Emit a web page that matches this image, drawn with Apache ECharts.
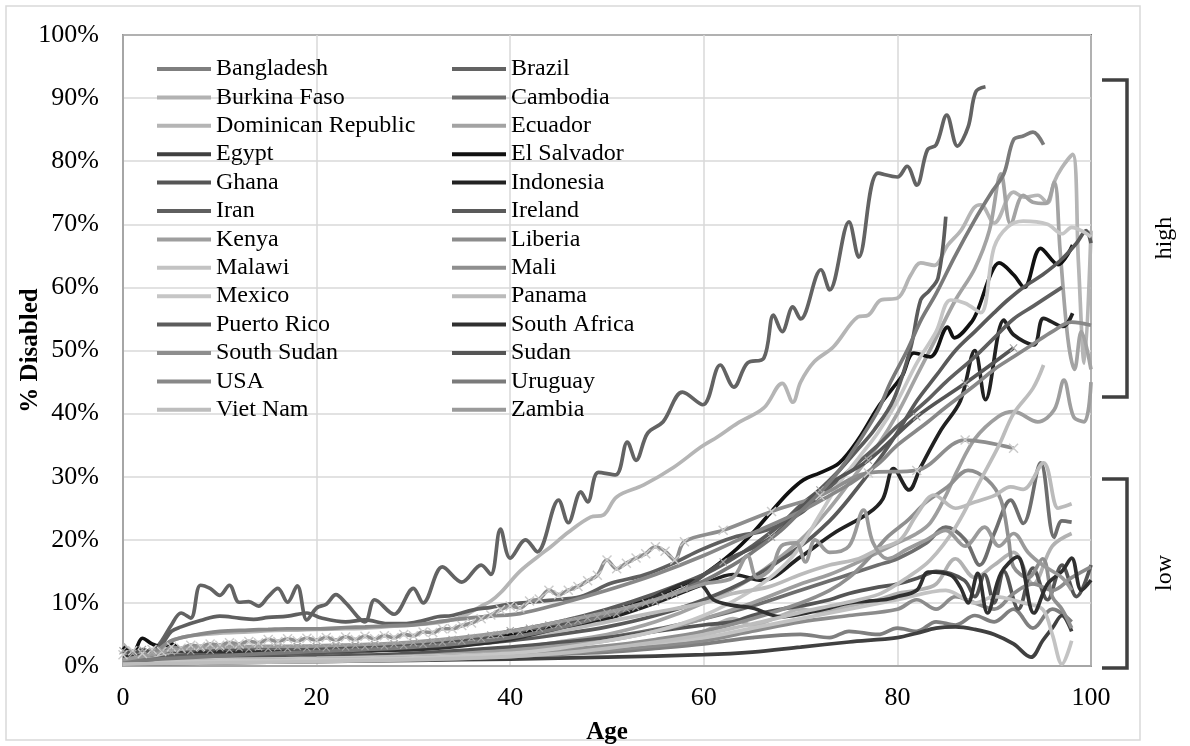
<!DOCTYPE html>
<html>
<head>
<meta charset="utf-8">
<script src="https://cdn.jsdelivr.net/npm/echarts@6/dist/echarts.min.js"></script>
<style>html,body{margin:0;padding:0;background:#fff}#c{width:1190px;height:746px}</style>
</head>
<body>
<div id="c"></div>
<script>
// ---- Data: [age, % disabled] ----
const xTicks = [0, 20, 40, 60, 80, 100];
const yTicks = [0, 10, 20, 30, 40, 50, 60, 70, 80, 90, 100];
const leftColumn = ['Bangladesh','Burkina Faso','Dominican Republic','Egypt','Ghana','Iran','Kenya','Malawi','Mexico','Puerto Rico','South Sudan','USA','Viet Nam'];
const rightColumn = ['Brazil','Cambodia','Ecuador','El Salvador','Indonesia','Ireland','Liberia','Mali','Panama','South Africa','Sudan','Uruguay','Zambia'];

const bangladesh = [[0,0.5],[5,0.7],[10,0.8],[20,1],[30,1.2],[40,1.6],[50,2.2],[55,2.8],[60,3.5],[65,4.5],[70,5],[73,4.5],[75,5.5],[78,5],[80,6],[82,5.5],[84,7],[86,6.5],[88,8],[90,7],[92,9],[94,6],[96,9],[98,7]];
const brazil = [[0,2.2],[2,1.8],[3,2.2],[4,4],[5,6.5],[6,8.4],[7,7.6],[8,12.8],[9,12.3],[10,11.2],[11,12.8],[12,10.1],[13,10.2],[14,9.5],[15,11],[16,12.3],[17,10.1],[18,12.7],[19,7.3],[20,9.2],[21,9.8],[22,11.3],[23,10],[25,7],[26,10.5],[28,8.2],[30,12.3],[31,10],[33,15.7],[35,13.3],[37,16],[38,14.5],[39,21.7],[40,17.1],[41.6,20],[42.8,18.1],[45,26.3],[46,22.7],[47.3,27.6],[48,26],[49.1,30.7],[50.9,30.3],[52.1,35.5],[53,32.6],[54.2,36.9],[55.8,38.7],[57.8,43.4],[59.9,41.4],[61.7,47.7],[63.1,44.2],[64.5,48],[66.2,48.8],[67.2,55.6],[68.1,53],[69.2,56.9],[70,55],[72.1,62.8],[73,59.6],[75,70.4],[76,64.8],[78,78.1],[80,77.5],[81,79.2],[82,76.2],[83.1,81.8],[84,82.6],[85.1,87.3],[86.2,82.4],[87.3,85.4],[88.1,91],[89.1,91.8]];
const burkinaFaso = [[0,3.5],[1,2],[2,1.5],[5,1.2],[10,1.1],[20,1.3],[30,1.6],[40,2.1],[50,3],[55,4],[60,5.5],[63,7.5],[65,6.5],[68,8],[70,9],[72,8.5],[75,9.5],[78,10.5],[80,11.5],[82,12],[84,13],[86,17],[88,14],[90,16],[92,18],[94,13],[96,19],[98,21]];
const cambodia = [[0,0.5],[5,0.8],[10,1],[20,1.3],[30,1.8],[40,2.8],[45,3.5],[50,4.5],[55,5.8],[60,7.5],[65,9.5],[70,12],[73,13.5],[75,14.5],[78,16],[80,17],[83,19.5],[85,22],[87,20],[88.5,16],[90,21],[91.7,26.3],[93,22.6],[94.8,32.2],[96.2,20.4],[97,23],[98,22.8]];
const dominicanRepublic = [[0,1.5],[2,2],[4,2.8],[5,4],[7,4.8],[10,5.2],[13,5.4],[15,5.6],[18,5.7],[20,5.8],[23,5.9],[25,6],[28,6.3],[30,6.5],[33,7],[35,7.8],[37,9.5],[38,10.3],[39,11.6],[41,15],[43,17.5],[44.2,18.9],[46,21.2],[48.3,23.6],[49.6,23.9],[51,26.8],[53.8,28.7],[56.9,31.5],[59.7,34.7],[61.4,36.3],[63.5,38.5],[66.2,40.9],[68.1,44.8],[69.2,41.8],[70,45],[71.4,48.2],[73.4,50.6],[75.9,55.3],[77,55.6],[78.3,58],[80,58.3],[81.4,62],[82.4,63.9],[83.8,63.5],[85.2,66.7],[86.6,69.1],[87.9,72.6],[88.6,73.1],[90,70.2],[92,75.1],[93.1,74.3],[94.5,74.6],[95.5,73.4],[96.2,76.7],[97,79],[98.1,81.1],[98.7,64],[99.3,48],[100,69]];
const ecuador = [[0,0.6],[5,0.8],[10,1],[20,1.3],[30,1.8],[40,2.8],[45,3.8],[50,5],[55,7],[60,10],[65,14],[70,20],[73,25],[76,31],[78,35],[80,40],[82,46],[84,52],[86,58],[88,63],[89.5,69],[90.7,78],[91.7,70],[93,74.6],[94,73.5],[95.3,73.3],[96.2,76.7],[96.8,66],[97.6,52],[98.3,47],[99,53],[100,47]];
const egypt = [[0,0.3],[10,0.5],[20,0.7],[30,0.9],[40,1.1],[50,1.4],[60,1.8],[65,2.2],[70,3],[75,3.8],[80,4.5],[82,5.2],[84,6],[86,6.2],[88,5.8],[90,5],[92,3.5],[93.8,1.4],[95,4],[96,6],[97,8],[98,5.5]];
const elSalvador = [[0,3],[1,2],[2,4.4],[3,3.5],[4,3],[5,3.5],[6,2.5],[8,2.2],[10,2],[15,2.1],[20,2.3],[25,2.6],[30,3.1],[35,3.8],[40,5],[45,6.5],[50,8.5],[55,11],[58,13],[60,14.5],[63,18],[65,21],[67,24.5],[68.7,27.4],[70.3,29.5],[72,30.6],[74,32.2],[76,36],[78,41],[79.5,44],[80.5,46],[81.7,49.6],[83.4,49],[85.2,53.7],[85.9,52],[87.6,54.4],[88.3,56.4],[89.7,62.3],[90.5,63.9],[92,62],[93.1,60],[94.8,66.2],[96.6,63.6],[98.1,66.7]];
const ghana = [[0,0.8],[5,1.1],[10,1.2],[20,1.5],[30,2],[40,3],[45,3.7],[50,4.5],[55,5.5],[60,6.5],[63,7],[65,8],[68,9],[70,9.5],[73,10.5],[75,11.5],[78,12.5],[80,13],[82.4,14.1],[84,15],[86.9,13.6],[88,11],[89,14.5],[90,10],[91,15],[92.5,9],[94,15.5],[95.5,10.5],[97,16],[98.5,11],[100,16]];
const indonesia = [[0,1.5],[5,2],[10,2.2],[20,2.5],[30,3],[35,3.5],[40,4.5],[45,5.8],[50,7.5],[55,10],[60,13],[63,14.5],[66,13.6],[70,17.3],[73.4,21],[77,24.2],[78.5,26.5],[79.6,31.3],[81.2,27.9],[82.4,31.5],[84.5,37.4],[86.5,42],[88,50],[89.1,42.2],[91,54.8],[92,52.5],[94.1,50.9],[95.1,55.1],[97.1,53.8],[98.1,55.9]];
const iran = [[0,1],[2,1.5],[4,3.5],[5,5.5],[6,6.2],[8,7.2],[10,7.9],[12,7.6],[13.5,7.4],[15,7.7],[17,7.9],[19,8.4],[20.5,7.6],[23,7],[25,7.3],[27.3,6.7],[29,6.7],[31,7.2],[32.5,7.8],[34,8],[36.2,8.9],[38,9.3],[40,9.8],[42,10.1],[44,10.4],[47.3,11],[50.4,13.1],[53.8,14.4],[56.9,16.3],[59.7,18.4],[63.1,20.4],[66.6,21.6],[70,24.2],[72,27],[75,31],[78,35],[80,38],[83,42],[85,45],[88,49],[90,52],[92,55],[94,57],[97,60]];
const ireland = [[0,0.5],[5,1],[10,1.5],[15,1.8],[20,2],[25,2.3],[30,2.8],[35,3.3],[40,4],[45,5],[50,6.2],[55,8],[60,10.5],[65,14],[70,19],[73,23],[75,26.5],[78,32.5],[80,37],[82,42],[84,46],[86,50],[88,53],[90,56],[91.4,58],[93,60],[95,62],[97,64.5],[98.5,67],[99.5,69],[100,67]];
const kenya = [[0,0.5],[5,0.9],[10,1],[20,1.2],[30,1.6],[40,2.5],[45,3.2],[50,4],[55,5.5],[60,7.5],[65,10],[70,13],[73,14.5],[76,16.5],[78,18],[80,19.5],[82,21],[83.4,22.7],[85,27],[86.2,31],[88,36],[90.4,39.5],[92,40.3],[94.5,38.7],[96.2,40.6],[97.2,45.3],[98.2,39.5],[99.3,38.7],[100,45]];
const liberia = [[0,0.4],[5,0.5],[10,0.6],[20,0.8],[30,1],[40,1.5],[50,2.5],[60,4],[65,5.5],[70,7],[75,8],[80,9],[82,10.5],[84,9],[86,11],[88,10],[90,9],[92,11.5],[94,13],[96,12],[98,14],[100,15.7]];
const malawi = [[0,0.5],[5,0.8],[10,1],[20,1.2],[30,1.5],[40,2],[50,3],[60,4.5],[65,6],[70,7.5],[75,9],[80,10.5],[85,12],[88,10],[90,11],[93,10],[95,9],[96,5],[97,0.3],[98,4]];
const mali = [[0,0.5],[5,0.7],[10,0.8],[20,1],[30,1.3],[40,2],[50,3.2],[55,4.2],[60,5.5],[65,7.5],[70,10],[73,12],[75,14],[77,17],[79,20.5],[81,23],[83,26],[85.2,28.4],[87.3,31],[89.3,29.5],[90.7,26.3],[91.5,20],[92,15.7],[93.5,14],[95,17],[96,11],[97,9],[98,6]];
const mexico = [[0,0.5],[5,0.7],[10,0.8],[20,1],[30,1.3],[40,2],[45,2.8],[50,4],[55,5.5],[60,8],[65,12],[68,15.5],[70,19],[72,24],[74,29],[76,33],[78,37],[80,42],[82,48],[84,53],[85.5,58],[87,57.5],[88.6,56],[90,66.4],[91.4,69.6],[93,70.5],[95.5,70],[97,68.5],[98,69.5],[99,69],[100,68]];
const panama = [[0,1],[3,1.5],[5,2],[10,2.5],[20,2.8],[30,3.2],[40,4.5],[45,5.5],[50,7],[55,8.5],[60,10],[63,11.5],[66.6,12.5],[70,14.5],[73,16],[76,17],[78,18.5],[80.3,20],[82,24],[83.8,27.1],[86,25],[88,26],[90,27],[91.7,28.4],[93,28],[95.1,32.2],[96.6,25],[97.3,25.3],[98,25.7]];
const puertoRico = [[0,0.8],[3,1],[5,1.6],[10,2],[15,2.3],[20,2.6],[25,3],[30,3.5],[35,4.2],[40,5.5],[45,7],[50,9],[55,11.5],[60,14.5],[63,17],[65,19],[68,22.5],[70,25.5],[72,28],[74,31],[76,34.5],[77.6,37.4],[79.6,42.2],[81.4,50.6],[82.4,58],[83.3,59.5],[84.2,61.5],[85,71.2]];
const southAfrica = [[0,1.5],[3,1.8],[5,2.4],[10,2.3],[15,2.2],[20,2.3],[25,2.5],[30,2.6],[35,3.2],[40,4.2],[45,6],[50,8],[53,9.5],[55,11],[57,12.5],[59,13.5],[60,12.5],[61,10.5],[63,9.6],[65,9.2],[68,7.8],[70,8.2],[73,9.2],[75,10],[78.6,10.5],[80,11],[82,12],[83.2,14.9],[85.5,14.4],[86.5,12.5],[87.3,10],[88.3,14.7],[89.3,8.4],[90.7,14.7],[92.4,17.3],[94.1,8.4],[95.5,13],[97,15],[98,17.1],[99,12],[100,13.6]];
const southSudan = [[0,1.8],[1,2.4],[2,2],[3,2.6],[4,2.3],[5,3],[6,2.8],[7,3.3],[8,3.1],[9,3.5],[10,3.3],[11,3.7],[12,3.5],[13,3.9],[14,3.7],[15,4.2],[16,3.9],[17,4.3],[18,4],[19,4.4],[20,4.1],[21,4.5],[22,4.1],[23,4.6],[24,4.2],[25,4.7],[26,4.3],[27,4.8],[28,4.5],[29,5],[30,4.8],[31,5.4],[32,5.3],[33,5.9],[34,5.9],[35,6.4],[36,6.8],[37,7.5],[38,8.1],[39,8.9],[40,9.5],[41,9.2],[42,10.3],[43,10.6],[44,12],[45,11.3],[46,12],[47,12.6],[48,13.5],[49,14.4],[50,16.8],[51,15.4],[52,16.3],[53,17.1],[54,17.8],[55,18.9],[56,18.2],[57,16.8],[58,19.7],[62,21.5],[67,24.5],[72,27],[77,30.6],[82,31],[87,35.8],[92,34.5]];
const sudan = [[0,2.4],[1,2],[2,2.6],[3,2.2],[4,2.5],[5,2.3],[6,2.7],[7,2.4],[8,2.8],[9,2.5],[10,2.9],[11,2.6],[12,2.9],[13,2.7],[14,3],[15,2.8],[16,3],[17,2.8],[18,3.1],[19,2.9],[20,3.1],[21,2.9],[22,3.2],[23,3],[24,3.3],[25,3.1],[26,3.4],[27,3.2],[28,3.5],[29,3.3],[30,3.7],[31,3.5],[32,3.9],[33,3.8],[34,4.2],[35,4],[36,4.5],[37,4.4],[38,4.9],[39,5],[40,5.6],[41,5.4],[42,6],[43,6],[44,6.5],[45,6.6],[46,7],[47,7.2],[48,7.6],[49,7.8],[50,8.4],[51,8.3],[52,9.1],[53,9.3],[54,10],[55,10.2],[56,11],[57,11.4],[58,12.2],[62,16.5],[67,20.4],[72,27.9],[77,32.6],[82,39.5],[87,44.8],[92,50.4]];
const uruguay = [[0,0.8],[5,1.2],[10,1.6],[15,2],[20,2.3],[25,2.6],[30,3],[35,3.6],[40,4.5],[45,6],[50,8],[55,10.5],[60,13.5],[63,16],[65,18],[68,21.5],[70,24.5],[72,27.5],[74,31],[76,35.5],[78,40.5],[79.3,45],[81,50],[82.5,55],[84,59],[85.9,64.8],[88,70.7],[89.7,75],[91,78],[92,83.4],[93,84],[94,84.6],[95.1,82.6]];
const usa = [[0,0.8],[3,2],[5,4],[7,4.8],[10,5.5],[13,5.7],[15,5.8],[17,5.9],[20,5.9],[23,6.1],[25,6.2],[28,6.4],[30,6.5],[34,7.3],[38,7.9],[41,8.3],[45,9.8],[50,12],[55,14.5],[60,17.5],[65,21],[70,24.5],[73,27],[75,28.8],[78,32],[80,35],[83,38.5],[85,41],[88,44.5],[90,47],[92,49],[94,51],[96,53],[98,54.5],[100,54]];
const vietNam = [[0,0.3],[5,0.4],[10,0.5],[20,0.7],[30,1],[40,1.5],[45,2],[50,2.8],[55,3.8],[60,5],[63,6],[66,7],[70,8.5],[73,9.5],[76,10.5],[78.3,11.5],[81,14],[83.4,16.8],[86,22],[88.6,29.5],[90.5,35],[92,40],[94,44],[95.1,47.7]];
const zambia = [[0,1],[3,1.8],[5,2.5],[10,3],[20,3.2],[30,3.8],[40,5.5],[45,7],[50,8.5],[55,10.5],[58,12],[60,13],[63,14],[64.5,17.5],[65.5,14],[67,15.5],[68,19],[69.5,19.5],[70.5,16.5],[71.5,20],[73,18],[75,19],[76.5,24.7],[77.5,19.5],[79,17],[81,18.5],[83,20],[85,21.5],[87,19],[89,22],[90.5,19],[92,21],[93.5,18],[95,16],[97,14],[98,12]];

// ---- Styling (separate from data) ----
const seriesData = {
  'Bangladesh': bangladesh, 'Brazil': brazil, 'Burkina Faso': burkinaFaso, 'Cambodia': cambodia,
  'Dominican Republic': dominicanRepublic, 'Ecuador': ecuador, 'Egypt': egypt, 'El Salvador': elSalvador,
  'Ghana': ghana, 'Indonesia': indonesia, 'Iran': iran, 'Ireland': ireland, 'Kenya': kenya,
  'Liberia': liberia, 'Malawi': malawi, 'Mali': mali, 'Mexico': mexico, 'Panama': panama,
  'Puerto Rico': puertoRico, 'South Africa': southAfrica, 'South Sudan': southSudan, 'Sudan': sudan,
  'USA': usa, 'Uruguay': uruguay, 'Viet Nam': vietNam, 'Zambia': zambia
};
const lineColors = {
  'Bangladesh':'#7f7f7f','Brazil':'#636363','Burkina Faso':'#b2b2b2','Cambodia':'#6e6e6e',
  'Dominican Republic':'#b5b5b5','Ecuador':'#a3a3a3','Egypt':'#404040','El Salvador':'#111111',
  'Ghana':'#555555','Indonesia':'#222222','Iran':'#5f5f5f','Ireland':'#5a5a5a','Kenya':'#9e9e9e',
  'Liberia':'#8c8c8c','Malawi':'#c3c3c3','Mali':'#8f8f8f','Mexico':'#c6c6c6','Panama':'#bbbbbb',
  'Puerto Rico':'#5c5c5c','South Africa':'#303030','South Sudan':'#8e8e8e','Sudan':'#555555',
  'USA':'#888888','Uruguay':'#7a7a7a','Viet Nam':'#bdbdbd','Zambia':'#9a9a9a'
};
const markerColors = {'South Sudan':'#cbcbcb','Sudan':'#a5a5a5'};
const xPath = 'path://M1,0L5,4L9,0L10,1L6,5L10,9L9,10L5,6L1,10L0,9L4,5L0,1Z';
const FONT = '"Liberation Serif","Times New Roman",serif';

const order = ['Bangladesh','Brazil','Burkina Faso','Cambodia','Dominican Republic','Ecuador','Egypt','El Salvador','Ghana','Indonesia','Iran','Ireland','Kenya','Liberia','Malawi','Mali','Mexico','Panama','Puerto Rico','South Africa','South Sudan','Sudan','USA','Uruguay','Viet Nam','Zambia'];

const series = order.map(name => {
  const hasMarker = markerColors[name] !== undefined;
  return {
    name: name,
    type: 'line',
    data: seriesData[name],
    smooth: 0.35,
    symbol: hasMarker ? xPath : 'none',
    symbolSize: hasMarker ? (name === 'Sudan' ? 8 : 10) : 0,
    showSymbol: hasMarker,
    lineStyle: { color: lineColors[name], width: 3.7 },
    itemStyle: { color: hasMarker ? markerColors[name] : lineColors[name] },
    emphasis: { disabled: true },
    animation: false
  };
});

function legendItems(names) {
  return names.map(n => ({ name: n, icon: 'rect', itemStyle: { color: lineColors[n], borderWidth: 0 } }));
}

const legendBase = {
  orient: 'vertical',
  top: 57,
  padding: 0,
  itemWidth: 54,
  itemHeight: 4,
  itemGap: 4.4,
  selectedMode: false,
  textStyle: { fontFamily: FONT, fontSize: 24, lineHeight: 24, color: '#000' }
};

const chart = echarts.init(document.getElementById('c'), null, { renderer: 'canvas' });
chart.setOption({
  backgroundColor: '#fff',
  animation: false,
  grid: { left: 123, right: 99, top: 35, bottom: 80, show: true, borderColor: '#000', borderWidth: 1.5,
          backgroundColor: 'transparent', containLabel: false, outerBoundsMode: 'none' },
  xAxis: {
    type: 'value', min: xTicks[0], max: xTicks[xTicks.length - 1], interval: 20,
    axisLine: { show: true, lineStyle: { color: '#a6a6a6', width: 2 } },
    axisTick: { show: false },
    splitLine: { show: true, lineStyle: { color: '#d9d9d9', width: 1.5 } },
    axisLabel: { fontFamily: FONT, fontSize: 26, color: '#000', margin: 19 },
    name: 'Age', nameLocation: 'middle', nameGap: 54, nameMoveOverlap: false,
    nameTextStyle: { fontFamily: FONT, fontSize: 25, fontWeight: 'bold', color: '#000' }
  },
  yAxis: {
    type: 'value', min: yTicks[0], max: yTicks[yTicks.length - 1], interval: 10,
    axisLine: { show: true, lineStyle: { color: '#a6a6a6', width: 2 } },
    axisTick: { show: false },
    splitLine: { show: true, lineStyle: { color: '#d9d9d9', width: 1.5 } },
    axisLabel: { fontFamily: FONT, fontSize: 26, color: '#000', margin: 24, formatter: '{value}%' },
    name: '% Disabled', nameLocation: 'middle', nameGap: 80, nameMoveOverlap: false,
    nameTextStyle: { fontFamily: FONT, fontSize: 25, fontWeight: 'bold', color: '#000' }
  },
  legend: [
    Object.assign({}, legendBase, { left: 157, data: legendItems(leftColumn) }),
    Object.assign({}, legendBase, { left: 452, data: legendItems(rightColumn) })
  ],
  graphic: [
    { type: 'rect', silent: true, z: -10, shape: { x: 6, y: 6, width: 1134, height: 734 },
      style: { fill: 'none', stroke: '#d9d9d9', lineWidth: 1.5 } },
    { type: 'polyline', silent: true, shape: { points: [[1102,80],[1127,80],[1127,397],[1102,397]] },
      style: { fill: null, stroke: '#404040', lineWidth: 3.5 } },
    { type: 'polyline', silent: true, shape: { points: [[1102,479],[1127,479],[1127,668],[1102,668]] },
      style: { fill: null, stroke: '#404040', lineWidth: 3.5 } },
    { type: 'text', silent: true, x: 1165, y: 238, rotation: Math.PI / 2,
      style: { text: 'high', font: '24px ' + FONT, fill: '#000', textAlign: 'center', textVerticalAlign: 'middle' } },
    { type: 'text', silent: true, x: 1165, y: 573, rotation: Math.PI / 2,
      style: { text: 'low', font: '24px ' + FONT, fill: '#000', textAlign: 'center', textVerticalAlign: 'middle' } }
  ],
  series: series
});
</script>
</body>
</html>
